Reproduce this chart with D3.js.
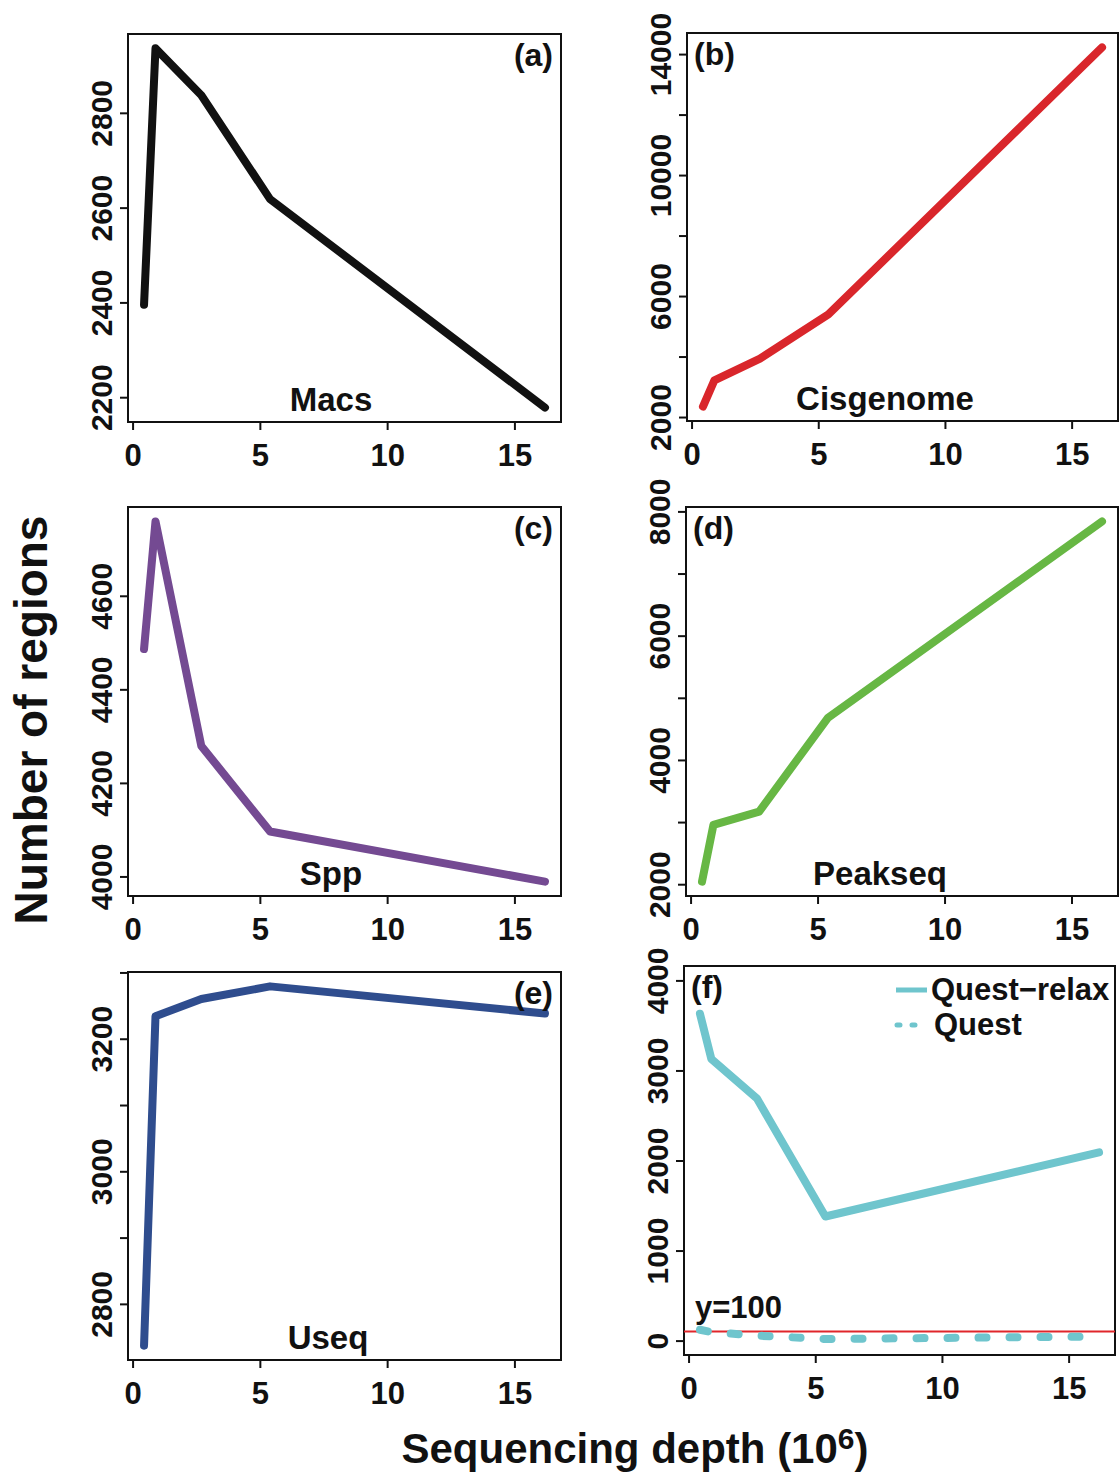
<!DOCTYPE html>
<html>
<head>
<meta charset="utf-8">
<script src="https://cdn.jsdelivr.net/npm/d3@7"></script>
<style>
  body { margin: 0; background: #fff; }
  text { font-family: "Liberation Sans", Arial, Helvetica, sans-serif; font-weight: bold; fill: #111; }
</style>
</head>
<body>
<div id="chart"></div>
<script>
// sequencing depth (10^6), shared by all panels
var depth = [0.45, 0.9, 2.7, 5.4, 16.2];

// number of regions per method
var macs = [2395, 2936, 2837, 2618, 2178];
var cisgenome = [2344, 3213, 3931, 5395, 14222];
var spp = [4486, 4759, 4279, 4096, 3989];
var peakseq = [2042, 2955, 3169, 4673, 7839];
var useq = [2737, 3234, 3260, 3279, 3238];
var questRelax = [3630, 3128, 2688, 1378, 2090];
var quest = [120, 95, 55, 18, 45];
var threshold = 100;

// axis ticks
var xTicks = [0, 5, 10, 15];
var ticksA = [2200, 2400, 2600, 2800], labelsA = ticksA;
var ticksB = [2000, 4000, 6000, 8000, 10000, 12000, 14000], labelsB = [2000, 6000, 10000, 14000];
var ticksC = [4000, 4200, 4400, 4600], labelsC = ticksC;
var ticksD = [2000, 3000, 4000, 5000, 6000, 7000, 8000], labelsD = [2000, 4000, 6000, 8000];
var ticksE = [2800, 2900, 3000, 3100, 3200, 3300], labelsE = [2800, 3000, 3200];
var ticksF = [0, 1000, 2000, 3000, 4000], labelsF = ticksF;

var svg_width = 1120, svg_height = 1473;
var svg = d3.select("#chart").append("svg")
    .attr("width", svg_width)
    .attr("height", svg_height);

// R style range: data extent padded by 4%
function padded(vals) {
    var lo = d3.min(vals), hi = d3.max(vals), r = hi - lo;
    return [lo - 0.04 * r, hi + 0.04 * r];
}

var panels = [
    {tag: "(a)", name: "Macs", color: "#111111", series: [macs], ylim: null,
     ticks: ticksA, labels: labelsA, box: [128, 34, 561, 422], tagRight: true, nameX: 331},
    {tag: "(b)", name: "Cisgenome", color: "#d9262b", series: [cisgenome], ylim: null,
     ticks: ticksB, labels: labelsB, box: [687, 33, 1118, 421], tagRight: false, nameX: 885},
    {tag: "(c)", name: "Spp", color: "#744a92", series: [spp], ylim: null,
     ticks: ticksC, labels: labelsC, box: [128, 507, 561, 896], tagRight: true, nameX: 331},
    {tag: "(d)", name: "Peakseq", color: "#67b744", series: [peakseq], ylim: null,
     ticks: ticksD, labels: labelsD, box: [686, 507, 1118, 896], tagRight: false, nameX: 880},
    {tag: "(e)", name: "Useq", color: "#2f4d8e", series: [useq], ylim: null,
     ticks: ticksE, labels: labelsE, box: [128, 972, 561, 1360], tagRight: true, nameX: 328},
    {tag: "(f)", name: "", color: "#6fc5cd", series: [questRelax, quest], ylim: [0, 4000],
     ticks: ticksF, labels: labelsF, box: [684, 966, 1115, 1355], tagRight: false, nameX: 0}
];

panels.forEach(function(p) {
    var x0 = p.box[0], y0 = p.box[1], x1 = p.box[2], y1 = p.box[3];
    var g = svg.append("g");

    var x = d3.scaleLinear().domain(padded(depth)).range([x0, x1]);
    var ydom = p.ylim ? padded(p.ylim) : padded(d3.merge(p.series));
    var y = d3.scaleLinear().domain(ydom).range([y1, y0]);

    // x axis
    var xa = g.append("g").attr("transform", "translate(0," + y1 + ")")
        .call(d3.axisBottom(x).tickValues(xTicks).tickSize(8).tickFormat(d3.format("d")));
    xa.select(".domain").remove();
    xa.selectAll("line").attr("stroke", "#111").attr("stroke-width", 2);
    xa.selectAll("text").attr("y", 44).attr("dy", 0).style("font-size", "31px")
        .style("font-family", null).attr("fill", "#111");
    g.append("line").attr("x1", x(xTicks[0])).attr("x2", x(xTicks[xTicks.length - 1]))
        .attr("y1", y1).attr("y2", y1).attr("stroke", "#111").attr("stroke-width", 2);

    // y axis, labels turned like R's las=0
    var ya = g.append("g").attr("transform", "translate(" + x0 + ",0)")
        .call(d3.axisLeft(y).tickValues(p.ticks).tickSize(8)
            .tickFormat(function(d) { return p.labels.indexOf(d) >= 0 ? d : ""; }));
    ya.select(".domain").remove();
    ya.selectAll("line").attr("stroke", "#111").attr("stroke-width", 2);
    ya.selectAll("text").attr("transform", "rotate(-90)")
        .attr("x", 0).attr("y", -16).attr("dy", 0)
        .attr("text-anchor", "middle").style("font-size", "30px")
        .style("font-family", null).attr("fill", "#111");

    // frame
    g.append("rect").attr("x", x0).attr("y", y0)
        .attr("width", x1 - x0).attr("height", y1 - y0)
        .attr("fill", "none").attr("stroke", "#111").attr("stroke-width", 2);

    var line = d3.line()
        .x(function(d, i) { return x(depth[i]); })
        .y(function(d) { return y(d); });

    if (p.tag == "(f)") {
        g.append("line").attr("x1", x0).attr("x2", x1)
            .attr("y1", y(threshold)).attr("y2", y(threshold))
            .attr("stroke", "#e0262b").attr("stroke-width", 2);
        g.append("text").attr("x", x0 + 11).attr("y", 1318)
            .style("font-size", "31px").text("y=" + threshold);
    }

    p.series.forEach(function(s, k) {
        g.append("path").datum(s)
            .attr("d", line)
            .attr("fill", "none")
            .attr("stroke", p.color)
            .attr("stroke-width", 8)
            .attr("stroke-linejoin", "round")
            .attr("stroke-linecap", "round")
            .attr("stroke-dasharray", k == 1 ? "8,23" : null);
    });

    // panel tag
    g.append("text")
        .attr("x", p.tagRight ? x1 - 8 : x0 + 7)
        .attr("y", y0 + 32)
        .attr("text-anchor", p.tagRight ? "end" : "start")
        .style("font-size", "32px")
        .text(p.tag);

    if (p.name) {
        g.append("text").attr("x", p.nameX).attr("y", y1 - 11)
            .attr("text-anchor", "middle").style("font-size", "33px")
            .text(p.name);
    }

    if (p.tag == "(f)") {
        var lg = g.append("g");
        lg.append("line").attr("x1", 896).attr("x2", 927).attr("y1", 990).attr("y2", 990)
            .attr("stroke", p.color).attr("stroke-width", 5);
        lg.append("text").attr("x", 931).attr("y", 1000).style("font-size", "31px").text("Quest\u2212relax");
        lg.append("line").attr("x1", 897).attr("x2", 927).attr("y1", 1025).attr("y2", 1025)
            .attr("stroke", p.color).attr("stroke-width", 5)
            .attr("stroke-linecap", "round").attr("stroke-dasharray", "3,12");
        lg.append("text").attr("x", 934).attr("y", 1035).style("font-size", "31px").text("Quest");
    }
});

// shared axis titles
svg.append("text")
    .attr("transform", "translate(47,720) rotate(-90)")
    .attr("text-anchor", "middle")
    .style("font-size", "46px")
    .text("Number of regions");

var xt = svg.append("text")
    .attr("x", 635).attr("y", 1463)
    .attr("text-anchor", "middle")
    .style("font-size", "42px");
xt.append("tspan").text("Sequencing depth (10");
xt.append("tspan").attr("dy", -14).style("font-size", "30px").text("6");
xt.append("tspan").attr("dy", 14).text(")");
</script>
</body>
</html>
